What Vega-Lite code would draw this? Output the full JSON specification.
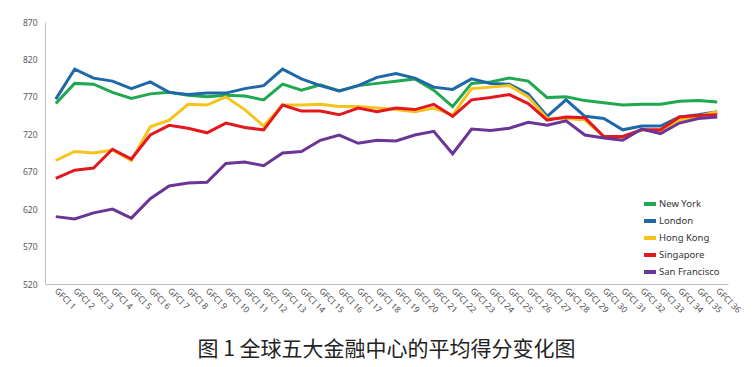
{
  "$schema": "https://vega.github.io/schema/vega-lite/v6.json",
  "width": 683,
  "height": 262,
  "autosize": "none",
  "padding": {"left": 45, "top": 22, "right": 26, "bottom": 83},
  "background": "white",
  "config": {"view": {"stroke": null}, "font": "Noto Sans"},
  "title": {
    "text": "图 1  全球五大金融中心的平均得分变化图",
    "orient": "bottom",
    "anchor": "middle",
    "font": "Noto Sans CJK SC",
    "fontSize": 21,
    "fontWeight": "normal",
    "color": "#222222",
    "offset": 25
  },
  "data": {
    "values": [
      {"g":"GFCI 1","c":"New York","v":761},{"g":"GFCI 2","c":"New York","v":788},{"g":"GFCI 3","c":"New York","v":787},{"g":"GFCI 4","c":"New York","v":776},{"g":"GFCI 5","c":"New York","v":768},{"g":"GFCI 6","c":"New York","v":774},{"g":"GFCI 7","c":"New York","v":776},{"g":"GFCI 8","c":"New York","v":772},{"g":"GFCI 9","c":"New York","v":770},{"g":"GFCI 10","c":"New York","v":772},{"g":"GFCI 11","c":"New York","v":771},{"g":"GFCI 12","c":"New York","v":766},{"g":"GFCI 13","c":"New York","v":787},{"g":"GFCI 14","c":"New York","v":779},{"g":"GFCI 15","c":"New York","v":786},{"g":"GFCI 16","c":"New York","v":778},{"g":"GFCI 17","c":"New York","v":785},{"g":"GFCI 18","c":"New York","v":788},{"g":"GFCI 19","c":"New York","v":791},{"g":"GFCI 20","c":"New York","v":794},{"g":"GFCI 21","c":"New York","v":779},{"g":"GFCI 22","c":"New York","v":757},{"g":"GFCI 23","c":"New York","v":788},{"g":"GFCI 24","c":"New York","v":790},{"g":"GFCI 25","c":"New York","v":795},{"g":"GFCI 26","c":"New York","v":791},{"g":"GFCI 27","c":"New York","v":769},{"g":"GFCI 28","c":"New York","v":770},{"g":"GFCI 29","c":"New York","v":765},{"g":"GFCI 30","c":"New York","v":762},{"g":"GFCI 31","c":"New York","v":759},{"g":"GFCI 32","c":"New York","v":760},{"g":"GFCI 33","c":"New York","v":760},{"g":"GFCI 34","c":"New York","v":764},{"g":"GFCI 35","c":"New York","v":765},{"g":"GFCI 36","c":"New York","v":763},
      {"g":"GFCI 1","c":"London","v":767},{"g":"GFCI 2","c":"London","v":807},{"g":"GFCI 3","c":"London","v":795},{"g":"GFCI 4","c":"London","v":791},{"g":"GFCI 5","c":"London","v":781},{"g":"GFCI 6","c":"London","v":790},{"g":"GFCI 7","c":"London","v":776},{"g":"GFCI 8","c":"London","v":773},{"g":"GFCI 9","c":"London","v":775},{"g":"GFCI 10","c":"London","v":775},{"g":"GFCI 11","c":"London","v":781},{"g":"GFCI 12","c":"London","v":785},{"g":"GFCI 13","c":"London","v":807},{"g":"GFCI 14","c":"London","v":794},{"g":"GFCI 15","c":"London","v":785},{"g":"GFCI 16","c":"London","v":778},{"g":"GFCI 17","c":"London","v":785},{"g":"GFCI 18","c":"London","v":796},{"g":"GFCI 19","c":"London","v":801},{"g":"GFCI 20","c":"London","v":795},{"g":"GFCI 21","c":"London","v":783},{"g":"GFCI 22","c":"London","v":780},{"g":"GFCI 23","c":"London","v":794},{"g":"GFCI 24","c":"London","v":788},{"g":"GFCI 25","c":"London","v":787},{"g":"GFCI 26","c":"London","v":774},{"g":"GFCI 27","c":"London","v":744},{"g":"GFCI 28","c":"London","v":766},{"g":"GFCI 29","c":"London","v":744},{"g":"GFCI 30","c":"London","v":741},{"g":"GFCI 31","c":"London","v":726},{"g":"GFCI 32","c":"London","v":731},{"g":"GFCI 33","c":"London","v":731},{"g":"GFCI 34","c":"London","v":743},{"g":"GFCI 35","c":"London","v":746},{"g":"GFCI 36","c":"London","v":750},
      {"g":"GFCI 1","c":"Hong Kong","v":685},{"g":"GFCI 2","c":"Hong Kong","v":697},{"g":"GFCI 3","c":"Hong Kong","v":695},{"g":"GFCI 4","c":"Hong Kong","v":699},{"g":"GFCI 5","c":"Hong Kong","v":685},{"g":"GFCI 6","c":"Hong Kong","v":730},{"g":"GFCI 7","c":"Hong Kong","v":739},{"g":"GFCI 8","c":"Hong Kong","v":760},{"g":"GFCI 9","c":"Hong Kong","v":759},{"g":"GFCI 10","c":"Hong Kong","v":770},{"g":"GFCI 11","c":"Hong Kong","v":753},{"g":"GFCI 12","c":"Hong Kong","v":731},{"g":"GFCI 13","c":"Hong Kong","v":759},{"g":"GFCI 14","c":"Hong Kong","v":759},{"g":"GFCI 15","c":"Hong Kong","v":760},{"g":"GFCI 16","c":"Hong Kong","v":757},{"g":"GFCI 17","c":"Hong Kong","v":757},{"g":"GFCI 18","c":"Hong Kong","v":755},{"g":"GFCI 19","c":"Hong Kong","v":753},{"g":"GFCI 20","c":"Hong Kong","v":750},{"g":"GFCI 21","c":"Hong Kong","v":755},{"g":"GFCI 22","c":"Hong Kong","v":746},{"g":"GFCI 23","c":"Hong Kong","v":781},{"g":"GFCI 24","c":"Hong Kong","v":783},{"g":"GFCI 25","c":"Hong Kong","v":785},{"g":"GFCI 26","c":"Hong Kong","v":770},{"g":"GFCI 27","c":"Hong Kong","v":741},{"g":"GFCI 28","c":"Hong Kong","v":741},{"g":"GFCI 29","c":"Hong Kong","v":739},{"g":"GFCI 30","c":"Hong Kong","v":717},{"g":"GFCI 31","c":"Hong Kong","v":715},{"g":"GFCI 32","c":"Hong Kong","v":726},{"g":"GFCI 33","c":"Hong Kong","v":724},{"g":"GFCI 34","c":"Hong Kong","v":739},{"g":"GFCI 35","c":"Hong Kong","v":744},{"g":"GFCI 36","c":"Hong Kong","v":750},
      {"g":"GFCI 1","c":"Singapore","v":661},{"g":"GFCI 2","c":"Singapore","v":672},{"g":"GFCI 3","c":"Singapore","v":675},{"g":"GFCI 4","c":"Singapore","v":700},{"g":"GFCI 5","c":"Singapore","v":687},{"g":"GFCI 6","c":"Singapore","v":719},{"g":"GFCI 7","c":"Singapore","v":732},{"g":"GFCI 8","c":"Singapore","v":728},{"g":"GFCI 9","c":"Singapore","v":722},{"g":"GFCI 10","c":"Singapore","v":735},{"g":"GFCI 11","c":"Singapore","v":729},{"g":"GFCI 12","c":"Singapore","v":726},{"g":"GFCI 13","c":"Singapore","v":759},{"g":"GFCI 14","c":"Singapore","v":751},{"g":"GFCI 15","c":"Singapore","v":751},{"g":"GFCI 16","c":"Singapore","v":746},{"g":"GFCI 17","c":"Singapore","v":755},{"g":"GFCI 18","c":"Singapore","v":750},{"g":"GFCI 19","c":"Singapore","v":755},{"g":"GFCI 20","c":"Singapore","v":753},{"g":"GFCI 21","c":"Singapore","v":760},{"g":"GFCI 22","c":"Singapore","v":744},{"g":"GFCI 23","c":"Singapore","v":766},{"g":"GFCI 24","c":"Singapore","v":769},{"g":"GFCI 25","c":"Singapore","v":773},{"g":"GFCI 26","c":"Singapore","v":761},{"g":"GFCI 27","c":"Singapore","v":739},{"g":"GFCI 28","c":"Singapore","v":743},{"g":"GFCI 29","c":"Singapore","v":742},{"g":"GFCI 30","c":"Singapore","v":717},{"g":"GFCI 31","c":"Singapore","v":717},{"g":"GFCI 32","c":"Singapore","v":726},{"g":"GFCI 33","c":"Singapore","v":726},{"g":"GFCI 34","c":"Singapore","v":743},{"g":"GFCI 35","c":"Singapore","v":745},{"g":"GFCI 36","c":"Singapore","v":746},
      {"g":"GFCI 1","c":"San Francisco","v":610},{"g":"GFCI 2","c":"San Francisco","v":607},{"g":"GFCI 3","c":"San Francisco","v":615},{"g":"GFCI 4","c":"San Francisco","v":620},{"g":"GFCI 5","c":"San Francisco","v":608},{"g":"GFCI 6","c":"San Francisco","v":634},{"g":"GFCI 7","c":"San Francisco","v":651},{"g":"GFCI 8","c":"San Francisco","v":655},{"g":"GFCI 9","c":"San Francisco","v":656},{"g":"GFCI 10","c":"San Francisco","v":681},{"g":"GFCI 11","c":"San Francisco","v":683},{"g":"GFCI 12","c":"San Francisco","v":678},{"g":"GFCI 13","c":"San Francisco","v":695},{"g":"GFCI 14","c":"San Francisco","v":697},{"g":"GFCI 15","c":"San Francisco","v":712},{"g":"GFCI 16","c":"San Francisco","v":719},{"g":"GFCI 17","c":"San Francisco","v":708},{"g":"GFCI 18","c":"San Francisco","v":712},{"g":"GFCI 19","c":"San Francisco","v":711},{"g":"GFCI 20","c":"San Francisco","v":719},{"g":"GFCI 21","c":"San Francisco","v":724},{"g":"GFCI 22","c":"San Francisco","v":694},{"g":"GFCI 23","c":"San Francisco","v":727},{"g":"GFCI 24","c":"San Francisco","v":725},{"g":"GFCI 25","c":"San Francisco","v":728},{"g":"GFCI 26","c":"San Francisco","v":736},{"g":"GFCI 27","c":"San Francisco","v":732},{"g":"GFCI 28","c":"San Francisco","v":738},{"g":"GFCI 29","c":"San Francisco","v":719},{"g":"GFCI 30","c":"San Francisco","v":715},{"g":"GFCI 31","c":"San Francisco","v":712},{"g":"GFCI 32","c":"San Francisco","v":727},{"g":"GFCI 33","c":"San Francisco","v":721},{"g":"GFCI 34","c":"San Francisco","v":735},{"g":"GFCI 35","c":"San Francisco","v":741},{"g":"GFCI 36","c":"San Francisco","v":743}
    ]
  },
  "mark": {"type": "line", "strokeWidth": 3, "strokeJoin": "miter"},
  "encoding": {
    "x": {
      "field": "g",
      "type": "ordinal",
      "sort": null,
      "scale": {"type": "point", "padding": 0.57},
      "axis": {
        "title": null,
        "labelAngle": 45,
        "labelAlign": "left",
        "labelBaseline": "middle",
        "labelFontSize": 8.5,
        "labelColor": "#505050",
        "labelPadding": 5,
        "ticks": false,
        "domainColor": "#BFBFBF",
        "domainWidth": 1,
        "grid": false
      }
    },
    "y": {
      "field": "v",
      "type": "quantitative",
      "scale": {"domain": [520, 870], "nice": false, "zero": false},
      "axis": {
        "title": null,
        "values": [520, 570, 620, 670, 720, 770, 820, 870],
        "labelFontSize": 8.5,
        "labelColor": "#595959",
        "labelPadding": 8,
        "ticks": false,
        "domainColor": "#BFBFBF",
        "grid": false
      }
    },
    "color": {
      "field": "c",
      "type": "nominal",
      "sort": ["New York", "London", "Hong Kong", "Singapore", "San Francisco"],
      "scale": {
        "domain": ["New York", "London", "Hong Kong", "Singapore", "San Francisco"],
        "range": ["#1FA84F", "#1F68A8", "#F6C31C", "#E3181F", "#6A3597"]
      },
      "legend": {
        "title": null,
        "orient": "none",
        "legendX": 597,
        "legendY": 174,
        "symbolType": "stroke",
        "symbolStrokeWidth": 4,
        "symbolSize": 144,
        "labelFontSize": 9.5,
        "labelColor": "#333333",
        "labelOffset": 1,
        "rowPadding": 1
      }
    }
  }
}
